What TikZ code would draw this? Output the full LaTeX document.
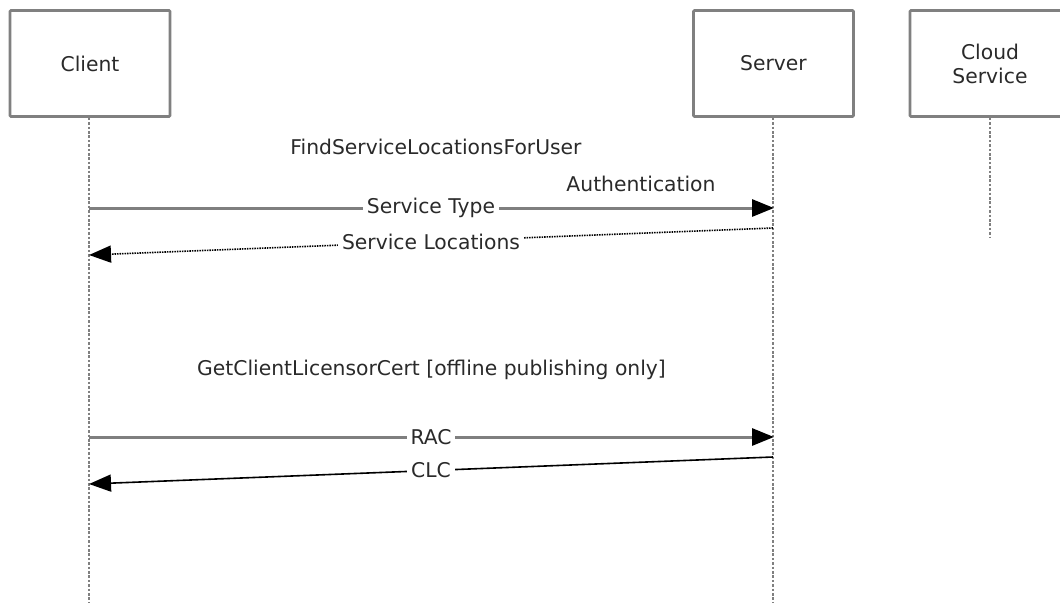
\documentclass[tikz,border=0pt]{standalone}
\usepackage{fontspec}
\setmainfont{DejaVu Sans}
\usetikzlibrary{arrows.meta}
\definecolor{boxgray}{HTML}{808080}
\definecolor{linegray}{HTML}{7F7F7F}
\definecolor{txtgray}{HTML}{2A2A2A}
\begin{document}
\begin{tikzpicture}[x=1pt,y=-1pt,
  txt/.style={font=\fontsize{20.3}{24}\selectfont, text=txtgray, inner sep=1pt},
  actor/.style={draw=boxgray, line width=2.7pt, rounded corners=1pt, minimum width=160pt, minimum height=106pt, align=center, txt},
  lifeline/.style={draw=boxgray, line width=2pt, dash pattern=on 2.6pt off 1.8pt},
  msg/.style={draw=linegray, line width=3pt, -{Triangle[length=22pt,width=17pt,color=black]}, shorten >=-1pt},
  reply/.style={draw=black, line width=1.6pt, dash pattern=on 1.5pt off 1pt, -{Triangle[length=22pt,width=17pt]}},
  ret/.style={draw=black, line width=1.6pt, -{Triangle[length=22pt,width=17pt]}},
  lbl/.style={txt, fill=white, inner xsep=4pt}]
\useasboundingbox (0,0) rectangle (1060,603);
\fill[white] (0,0) rectangle (1060,603);
\node[actor] (client) at (90,63.5) {Client};
\node[actor] (server) at (773.5,63.5) {Server};
\node[actor] (cloud) at (990,63.5) {Cloud\\Service};
\coordinate (cend) at (89,603);
\coordinate (send) at (773,603);
\coordinate (kend) at (990,238);
\draw[lifeline] (client.south -| cend) -- (cend);
\draw[lifeline] (server.south -| send) -- (send);
\draw[lifeline] (cloud.south -| kend) -- (kend);
\node[txt] (find) at (436,147) {FindServiceLocationsForUser};
\node[txt] (auth) at (641,184) {Authentication};
\coordinate (c1) at (89,208);
\coordinate (s1) at (773,208);
\draw[msg] (c1) -- node[lbl] (st) {Service Type} (s1);
\coordinate (s2) at (773,228);
\coordinate (c2) at (89,255);
\draw[reply] (s2) -- node[lbl] (sl) {Service Locations} (c2);
\node[txt, anchor=west] (gcl) at (196,370) {GetClientLicensorCert [offline publishing only]};
\coordinate (c3) at (89,437);
\coordinate (s3) at (773,437);
\draw[msg] (c3) -- node[lbl] (rac) {RAC} (s3);
\coordinate (s4) at (773,457);
\coordinate (c4) at (89,484);
\draw[ret] (s4) -- node[lbl] (clc) {CLC} (c4);
\end{tikzpicture}
\end{document}
